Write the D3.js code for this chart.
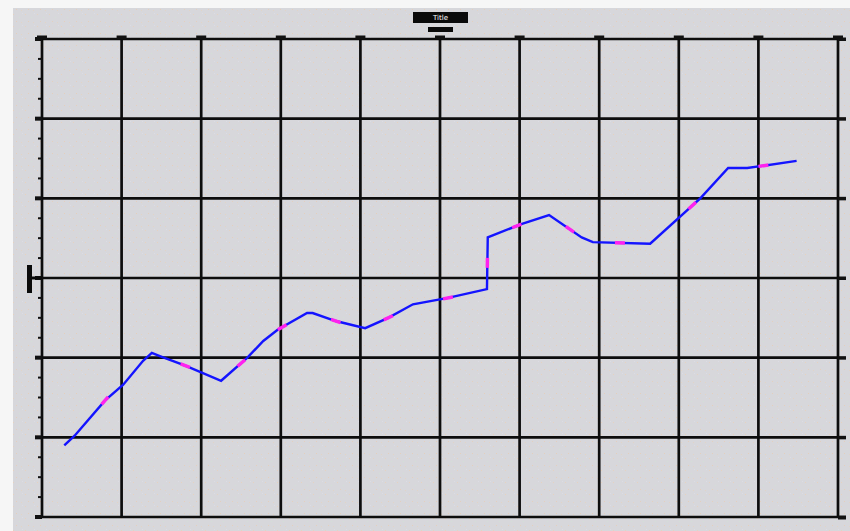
<!DOCTYPE html>
<html><head><meta charset="utf-8">
<script src="https://cdn.jsdelivr.net/npm/d3@7"></script>
<style>html,body{margin:0;padding:0;background:#f6f6f6;}svg{display:block;}</style>
</head><body>
<svg id="c" width="850" height="531"></svg>
<script>
// ---- data ----
const xTicks = [0,1,2,3,4,5,6,7,8,9,10];
const yTicks = [0,1,2,3,4,5,6];
const yMinor = [0.25,0.5,0.75,1.25,1.5,1.75,2.25,2.5,2.75,3.25,3.5,3.75,4.25,4.5,4.75,5.25,5.5,5.75];
const titleText = "Title";
const lineX = [0.28,0.41,0.79,1.02,1.27,1.38,1.48,1.80,2.25,2.58,2.78,2.96,3.33,3.40,3.69,4.06,4.35,4.66,5.10,5.59,5.60,6.03,6.37,6.78,6.92,7.64,8.27,8.62,8.86,9.48];
const lineY = [0.90,1.02,1.46,1.66,1.96,2.06,2.02,1.90,1.71,2.00,2.21,2.35,2.56,2.56,2.46,2.37,2.50,2.67,2.75,2.86,3.51,3.68,3.79,3.51,3.45,3.43,4.00,4.38,4.38,4.47];
const markX = [0.79,1.80,2.49,3.03,3.69,4.35,5.10,5.59,5.97,6.63,7.26,8.14,9.06];
const markY = [1.46,1.90,1.95,2.36,2.46,2.50,2.75,3.19,3.64,3.61,3.44,3.94,4.43];

const svg = d3.select("#c");
const L = 42, R = 838, T = 39, B = 517;
const x = d3.scaleLinear().domain([0,10]).range([L,R]);
const y = d3.scaleLinear().domain([0,6]).range([B,T]);

// background
const defs = svg.append("defs");
const pat = defs.append("pattern").attr("id","noise").attr("patternUnits","userSpaceOnUse").attr("width",12).attr("height",12);
pat.append("rect").attr("width",12).attr("height",12).attr("fill","#d7d7db");
[[1,2,"#e6d2c0"],[7,5,"#d2e0d6"],[4,9,"#e4cfbd"],[10,1,"#dcdce4"],[9,10,"#e2d4c6"]].forEach(d=>{
  pat.append("rect").attr("x",d[0]).attr("y",d[1]).attr("width",1).attr("height",1).attr("fill",d[2]);
});
svg.append("rect").attr("x",13).attr("y",8).attr("width",850-13).attr("height",531-8).attr("fill","url(#noise)");

// grid
const g = svg.append("g");
g.selectAll("line.v").data(xTicks).join("line")
  .attr("x1",d=>x(d)).attr("x2",d=>x(d)).attr("y1",T).attr("y2",B)
  .attr("stroke","#0d0d0d").attr("stroke-width",2.7);
g.selectAll("line.h").data(yTicks).join("line").attr("class","h")
  .attr("x1",L).attr("x2",R).attr("y1",d=>y(d)).attr("y2",d=>y(d))
  .attr("stroke","#0d0d0d").attr("stroke-width",2.7);

// axes ticks
const leftAxis = d3.axisLeft(y).tickValues(yTicks).tickSize(0).tickFormat("");
svg.append("g").attr("transform",`translate(${L},0)`).call(leftAxis).call(s=>s.select(".domain").remove());
// minor ticks on left
svg.append("g").selectAll("line").data(yMinor).join("line")
  .attr("x1",L-4).attr("x2",L).attr("y1",d=>y(d)).attr("y2",d=>y(d))
  .attr("stroke","#111").attr("stroke-width",2);
// major caps left
svg.append("g").selectAll("rect").data(yTicks).join("rect")
  .attr("x",L-7).attr("y",d=>y(d)-2).attr("width",7).attr("height",4).attr("fill","#111");
// major caps right
svg.append("g").selectAll("rect").data(yTicks).join("rect")
  .attr("x",R).attr("y",d=>y(d)-1.5).attr("width",8).attr("height",d=>d===0?4:3.5).attr("fill","#111");
// top caps
svg.append("g").selectAll("rect").data(xTicks).join("rect")
  .attr("x",d=>x(d)-5).attr("y",T-3.5).attr("width",10).attr("height",3.5).attr("fill","#111");

// title box
svg.append("rect").attr("x",413).attr("y",12).attr("width",55).attr("height",11).attr("fill","#0a0a0a");
svg.append("text").attr("x",440.5).attr("y",19.5).attr("text-anchor","middle")
  .attr("font-family","DejaVu Sans").attr("font-size",7).attr("fill","#fff").text(titleText);
svg.append("rect").attr("x",428).attr("y",27).attr("width",25).attr("height",5).attr("fill","#0a0a0a");

// y-axis label marker
svg.append("rect").attr("x",27).attr("y",265).attr("width",5).attr("height",28).attr("fill","#0a0a0a");
svg.append("line").attr("x1",31).attr("x2",L).attr("y1",y(3)).attr("y2",y(3)).attr("stroke","#0a0a0a").attr("stroke-width",3);

// data line
const pts = lineX.map((d,i)=>[x(d), y(lineY[i])]);
svg.append("path").datum(pts)
  .attr("d", d3.line())
  .attr("fill","none").attr("stroke","#1414ff").attr("stroke-width",2.4).attr("stroke-linejoin","miter");

// markers: short magenta segments along the line
function nearestDir(px,py){
  let best=null, bd=Infinity;
  for(let i=0;i<pts.length-1;i++){
    const [x1,y1]=pts[i],[x2,y2]=pts[i+1];
    const dx=x2-x1, dy=y2-y1, l2=dx*dx+dy*dy;
    let t=((px-x1)*dx+(py-y1)*dy)/l2; t=Math.max(0,Math.min(1,t));
    const cx=x1+t*dx, cy=y1+t*dy, dd=(px-cx)**2+(py-cy)**2;
    if(dd<bd){bd=dd; const l=Math.sqrt(l2); best=[cx,cy,dx/l,dy/l];}
  }
  return best;
}
const marks = markX.map((d,i)=>nearestDir(x(d), y(markY[i])));
svg.append("g").selectAll("line").data(marks).join("line")
  .attr("x1",d=>d[0]-d[2]*5).attr("y1",d=>d[1]-d[3]*5)
  .attr("x2",d=>d[0]+d[2]*5).attr("y2",d=>d[1]+d[3]*5)
  .attr("stroke","#ff22ee").attr("stroke-width",3.4);
</script>
</body></html>
